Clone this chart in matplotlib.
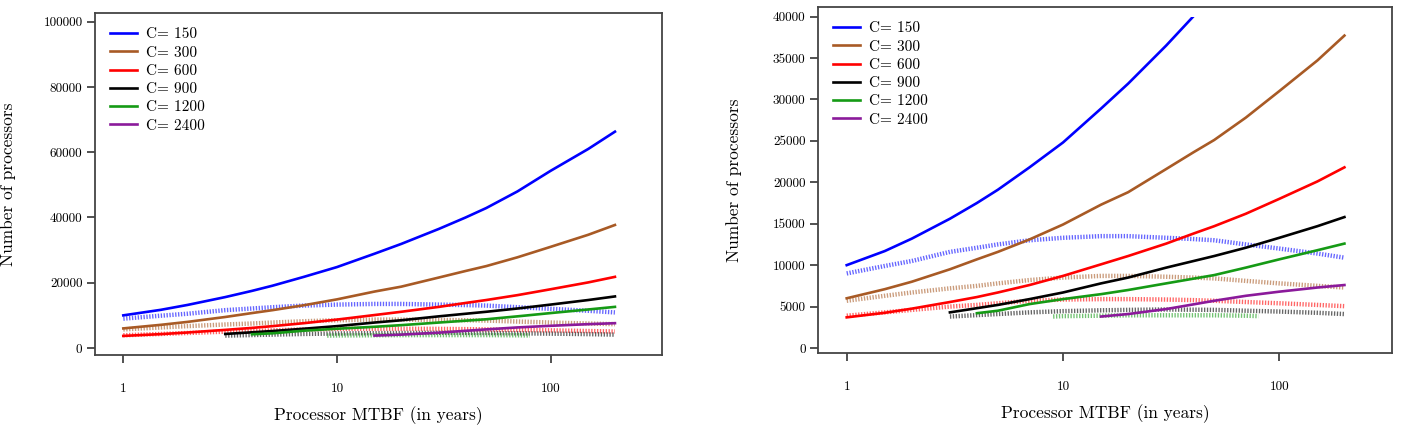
import matplotlib
matplotlib.use("Agg")
import matplotlib.pyplot as plt
from matplotlib.patches import Rectangle

plt.rcParams['font.family'] = ['cmr10', 'DejaVu Serif']
plt.rcParams['axes.formatter.use_mathtext'] = True

# DATA
mtbf = [1, 1.5, 2, 3, 4, 5, 7, 10, 15, 20, 30, 40, 50, 70, 100, 150, 200]
mtbf_900 = [3, 5, 7, 10, 15, 20, 30, 50, 70, 100, 150, 200]
mtbf_1200 = [4, 5, 7, 10, 15, 20, 30, 50, 70, 100, 150, 200]
mtbf_2400 = [15, 20, 30, 50, 70, 100, 150, 200]
mtbf_1200_dot = [9, 10, 15, 20, 30, 50, 70, 80]

labels = ["C= 150", "C= 300", "C= 600", "C= 900", "C= 1200", "C= 2400"]
colors = ["#0000ff", "#a85a25", "#ff0000", "#000000", "#159a15", "#8b1a9b"]

# solid curves
c150 = [10000, 11700, 13200, 15600, 17500, 19100, 21800, 24800, 28900,
        31900, 36500, 40000, 42900, 48000, 54300, 61000, 66300]
c300 = [6000, 7100, 8000, 9500, 10700, 11600, 13100, 14900, 17300, 18800,
        21600, 23600, 25100, 27800, 31000, 34700, 37700]
c600 = [3700, 4250, 4750, 5550, 6150, 6700, 7600, 8700, 10100, 11100,
        12600, 13800, 14700, 16200, 18000, 20100, 21800]
c900 = [4300, 5200, 5900, 6700, 7800, 8500, 9700, 11100, 12100, 13300,
        14700, 15800]
c1200 = [4200, 4500, 5300, 5900, 6500, 7000, 7800, 8800, 9700, 10700,
         11800, 12600]
c2400 = [3800, 4100, 4700, 5700, 6300, 6800, 7300, 7600]

# dotted curves
d150 = [9000, 9900, 10500, 11600, 12100, 12500, 13000, 13300, 13500, 13500,
        13300, 13150, 13000, 12500, 12000, 11400, 10900]
d300 = [5700, 6300, 6700, 7200, 7500, 7800, 8200, 8500, 8700, 8700,
        8600, 8500, 8400, 8100, 7800, 7500, 7300]
d600 = [3900, 4300, 4600, 5000, 5200, 5400, 5700, 5850, 5900, 5900,
        5850, 5780, 5700, 5550, 5400, 5200, 5050]
d900 = [3800, 4100, 4300, 4450, 4550, 4600, 4650, 4600, 4500, 4400,
        4250, 4100]
d1200 = [3800, 3850, 3900, 3950, 3950, 3950, 3900, 3850]


def draw(ax, ylim, yticks, cap=None):
    dotted = [(mtbf, d150), (mtbf, d300), (mtbf, d600), (mtbf_900, d900),
              (mtbf_1200_dot, d1200)]
    for (xs, ys), col in zip(dotted, colors):
        ax.plot(xs, ys, color=col, lw=3.2, alpha=0.6,
                linestyle=(0, (0.3, 0.35)), solid_capstyle='butt')

    solid = [(mtbf, c150), (mtbf, c300), (mtbf, c600), (mtbf_900, c900),
             (mtbf_1200, c1200), (mtbf_2400, c2400)]
    for (xs, ys), col, lab in zip(solid, colors, labels):
        line, = ax.plot(xs, ys, color=col, lw=1.9, label=lab)
        if cap is not None:
            clip = Rectangle((0.1, -1e6), 1e4, 1e6 + cap,
                             transform=ax.transData)
            line.set_clip_path(clip)

    ax.set_xscale("log")
    ax.set_xlim(0.737, 332)
    ax.set_xticks([1, 10, 100])
    ax.set_xticklabels(["1", "10", "100"])
    ax.minorticks_off()
    ax.set_ylim(*ylim)
    ax.set_yticks(yticks)
    ax.set_yticklabels([str(v) for v in yticks])
    ax.tick_params(axis="x", length=6, width=1.2, pad=14, labelsize=9.5,
                   color="#333333")
    ax.tick_params(axis="y", length=6, width=1.2, pad=3, labelsize=9.5,
                   color="#333333")
    for sp in ax.spines.values():
        sp.set_linewidth(1.3)
        sp.set_color("#444444")
    ax.set_xlabel("Processor MTBF (in years)", fontsize=12.5)
    ax.set_ylabel("Number of processors", fontsize=12.5)
    ax.legend(loc="upper left", frameon=False, fontsize=11,
              handlelength=1.8, handletextpad=0.6, labelspacing=0.3,
              borderaxespad=0.55)


fig = plt.figure(figsize=(14.01, 4.28), dpi=100)
ax1 = fig.add_axes([0.0678, 0.1706, 0.4047, 0.799])
ax2 = fig.add_axes([0.5839, 0.1752, 0.4097, 0.8084])

draw(ax1, (-2145, 102666), list(range(0, 100001, 20000)))
draw(ax2, (-603, 41146), list(range(0, 40001, 5000)), cap=40000)

ax1.xaxis.set_label_coords(0.5, -0.15)
ax1.yaxis.set_label_coords(-0.14, 0.5)
ax2.xaxis.set_label_coords(0.5, -0.148)
ax2.yaxis.set_label_coords(-0.132, 0.5)

fig.savefig("out.png", dpi=100)
